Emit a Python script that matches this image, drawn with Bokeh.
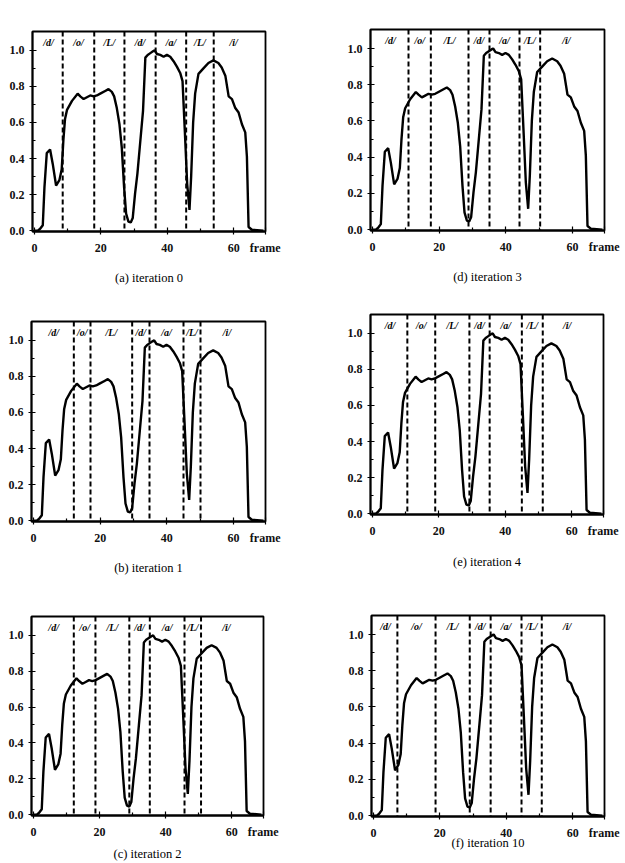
from bokeh.plotting import figure
from bokeh.layouts import column, row
from bokeh.models import (Range1d, Label, Span, FixedTicker, NumeralTickFormatter,
                          ColumnDataSource, Title)
from bokeh.core.properties import value
from bokeh.embed import file_html
from bokeh.resources import INLINE

# Normalised short-time energy of the utterance, per frame
frames = [0, 1.0, 1.7, 2.5, 3.0, 3.7, 4.7, 5.5, 6.5, 7.5, 8.2, 8.7, 9.2, 9.8, 11.3,
          13.0, 13.8, 14.8, 15.8, 16.8, 17.8, 18.8, 19.8, 21.3, 22.3, 23.3, 24.0,
          24.8, 25.6, 26.3, 27.0, 27.6, 28.3, 29.0, 29.6, 30.3, 31.0, 31.9, 32.7,
          33.4, 34.1, 34.9, 35.7, 36.2, 36.9, 37.9, 38.9, 39.9, 40.9, 41.9, 42.9,
          43.9, 44.6, 45.3, 46.0, 46.7, 47.2, 47.8, 48.4, 49.4, 50.9, 52.4, 53.9,
          55.4, 56.4, 57.5, 58.5, 59.5, 60.5, 61.5, 62.5, 63.5, 64.0, 64.5, 65.5, 69.0]
energy = [0.0, 0.0, 0.01, 0.03, 0.24, 0.43, 0.45, 0.37, 0.25, 0.28, 0.34, 0.50, 0.62,
          0.67, 0.72, 0.76, 0.745, 0.73, 0.74, 0.75, 0.745, 0.75, 0.76, 0.775, 0.785,
          0.77, 0.745, 0.68, 0.59, 0.46, 0.24, 0.095, 0.05, 0.045, 0.07, 0.205, 0.315,
          0.50, 0.665, 0.96, 0.975, 0.985, 0.995, 1.0, 0.98, 0.975, 0.965, 0.975, 0.965,
          0.94, 0.91, 0.875, 0.83, 0.55, 0.26, 0.115, 0.30, 0.60, 0.76, 0.87, 0.90,
          0.93, 0.945, 0.93, 0.905, 0.86, 0.745, 0.73, 0.68, 0.655, 0.59, 0.545, 0.41,
          0.02, 0.005, 0.0]

phonemes = ["/d/", "/o/", "/L/", "/d/", "/a/", "/L/", "/i/"]

# Segment boundaries (frame) found after each iteration
bounds_a = [8.5, 18.0, 27.1, 36.5, 45.7, 54.0]
bounds_b = [12.1, 17.1, 29.6, 34.8, 45.0, 50.1]
bounds_c = [12.2, 18.75, 29.0, 35.2, 45.7, 50.7]
bounds_d = [10.8, 17.5, 28.8, 35.1, 44.1, 50.3]
bounds_e = [10.5, 18.9, 29.2, 35.3, 45.0, 51.3]
bounds_f = [7.2, 18.7, 29.0, 35.3, 44.6, 50.7]

captions = ["(a) iteration 0", "(b) iteration 1", "(c) iteration 2",
            "(d) iteration 3", "(e) iteration 4", "(f) iteration 10"]

x_ticks = [0, 20, 40, 60]
y_ticks = [0.0, 0.2, 0.4, 0.6, 0.8, 1.0]
x_unit_label = "frame"

SERIF = "Liberation Serif"
X0, X1 = -0.6, 69.6
Y0, Y1 = -0.005, 1.105
UNIT_TICK = 69.5   # the unit name sits at the right end of the x axis


def panel(bounds, caption, width, height, left, right, top, bottom,
          cap_shift, cap_gap, caption_as_axis_label=False):
    p = figure(width=width, height=height, output_backend="svg", toolbar_location=None,
               x_range=Range1d(X0, X1), y_range=Range1d(Y0, Y1),
               min_border_left=left, min_border_right=right,
               min_border_top=top, min_border_bottom=bottom)
    p.background_fill_color = "white"
    p.border_fill_color = "white"
    p.outline_line_color = "black"
    p.outline_line_width = 1.8
    p.grid.visible = False

    p.xaxis.ticker = FixedTicker(ticks=x_ticks + [UNIT_TICK], minor_ticks=[10, 30, 50])
    p.xaxis.major_label_overrides = {UNIT_TICK: x_unit_label}
    p.yaxis.ticker = FixedTicker(ticks=y_ticks, minor_ticks=[0.1, 0.3, 0.5, 0.7, 0.9])
    p.yaxis.formatter = NumeralTickFormatter(format="0.0")
    for ax in (p.xaxis, p.yaxis):
        ax.axis_line_color = "black"
        ax.axis_line_width = 1.8
        ax.major_tick_in = 4
        ax.major_tick_out = 3
        ax.minor_tick_in = 3
        ax.minor_tick_out = 0
        ax.major_tick_line_width = 1.2
        ax.minor_tick_line_width = 1.2
        ax.major_label_text_font = SERIF
        ax.major_label_text_font_style = "bold"
        ax.major_label_text_font_size = "12px"
        ax.major_label_text_color = "#111111"
    p.xaxis.major_label_standoff = 6
    p.yaxis.major_label_standoff = 5

    # segment boundaries
    for b in bounds:
        p.add_layout(Span(location=b, dimension="height", line_color="black",
                          line_width=2.0, line_dash="5 3"))

    # phoneme labels centred in each segment
    edges = [0.0] + list(bounds) + [66.0]
    mids = [(edges[i] + edges[i + 1]) / 2 for i in range(len(phonemes))]
    src = ColumnDataSource(dict(x=mids, y=[1.045] * len(mids), t=phonemes))
    p.text("x", "y", text="t", source=src, text_font=value(SERIF),
           text_font_style="bold italic", text_font_size="10px",
           text_align="center", text_baseline="middle", text_color="black")

    # energy contour
    p.line(frames, energy, line_color="black", line_width=2.4)

    if caption_as_axis_label:
        p.xaxis.axis_label = caption
        p.xaxis.axis_label_standoff = cap_gap
        p.xaxis.axis_label_text_font = SERIF
        p.xaxis.axis_label_text_font_size = "12.5px"
        p.xaxis.axis_label_text_font_style = "normal"
        p.xaxis.axis_label_text_color = "#000000"
    else:
        p.add_layout(Title(text=caption, align="center", offset=cap_shift,
                           standoff=cap_gap, text_font=SERIF, text_font_size="12.5px",
                           text_font_style="normal", text_color="#000000"), "below")
    return p


pa = panel(bounds_a, captions[0], 313, 295, 32, 48, 31, 64, -11, 22)
pd = panel(bounds_d, captions[3], 312, 295, 57, 21, 29, 65, -5, 22)
pb = panel(bounds_b, captions[1], 313, 290, 31, 48, 26, 64, -9, 22)
pe = panel(bounds_e, captions[4], 312, 290, 57, 22, 19, 71, 31, 24)
pc = panel(bounds_c, captions[2], 313, 278, 31, 50, 31, 47, -15, 6)
pf = panel(bounds_f, captions[5], 312, 278, 58, 21, 30, 47, 0, -7,
           caption_as_axis_label=True)

# running page header
pa.add_layout(Label(x=-9.6, y=1.243, text="28", text_font=SERIF,
                    text_font_style="italic", text_font_size="11px",
                    text_baseline="middle", text_color="#222222"))
pd.add_layout(Label(x=44.0, y=1.232, text="韓國音響學會誌 第13卷 第1號(1994)",
                    text_font="Noto Sans CJK KR", text_font_size="10px",
                    text_align="center", text_baseline="middle", text_color="#222222"))

# each panel keeps its own frame position inside a row
page = column(row(column(pa), column(pd), spacing=0),
              row(column(pb), column(pe), spacing=0),
              row(column(pc), column(pf), spacing=0),
              spacing=0)

open("out.html", "w").write(file_html(page, INLINE))
